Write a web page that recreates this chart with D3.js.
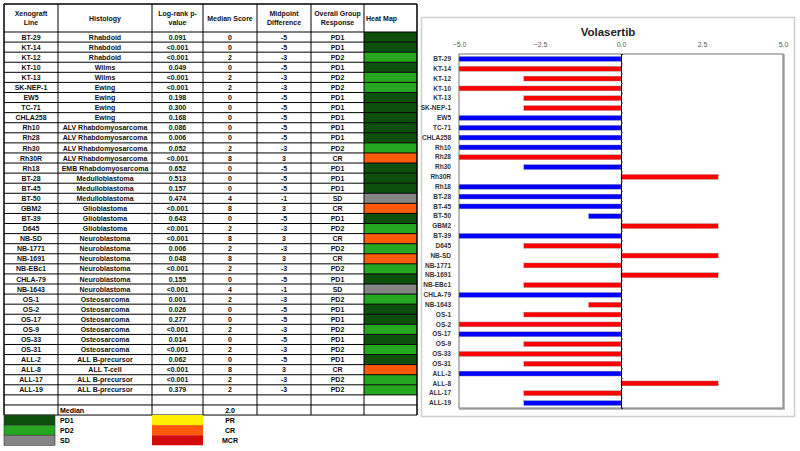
<!DOCTYPE html>
<html><head><meta charset="utf-8">
<script src="https://cdn.jsdelivr.net/npm/d3@7"></script>
<style>
html,body{margin:0;padding:0;background:#fff;}
svg{display:block;font-family:"Liberation Sans",Arial,sans-serif;}
</style></head>
<body>
<svg id="c" width="800" height="451"></svg>
<script>
const lines = ["BT-29","KT-14","KT-12","KT-10","KT-13","SK-NEP-1","EW5","TC-71","CHLA258","Rh10","Rh28","Rh30","Rh30R","Rh18","BT-28","BT-45","BT-50","GBM2","BT-39","D645","NB-SD","NB-1771","NB-1691","NB-EBc1","CHLA-79","NB-1643","OS-1","OS-2","OS-17","OS-9","OS-33","OS-31","ALL-2","ALL-8","ALL-17","ALL-19"];
const histology = ["Rhabdoid","Rhabdoid","Rhabdoid","Wilms","Wilms","Ewing","Ewing","Ewing","Ewing","ALV Rhabdomyosarcoma","ALV Rhabdomyosarcoma","ALV Rhabdomyosarcoma","ALV Rhabdomyosarcoma","EMB Rhabdomyosarcoma","Medulloblastoma","Medulloblastoma","Medulloblastoma","Glioblastoma","Glioblastoma","Glioblastoma","Neuroblastoma","Neuroblastoma","Neuroblastoma","Neuroblastoma","Neuroblastoma","Neuroblastoma","Osteosarcoma","Osteosarcoma","Osteosarcoma","Osteosarcoma","Osteosarcoma","Osteosarcoma","ALL B-precursor","ALL T-cell","ALL B-precursor","ALL B-precursor"];
const pValues = ["0.091","<0.001","<0.001","0.049","<0.001","<0.001","0.198","0.300","0.168","0.086","0.006","0.052","<0.001","0.652","0.513","0.157","0.474","<0.001","0.643","<0.001","<0.001","0.006","0.048","<0.001","0.155","<0.001","0.001","0.026","0.277","<0.001","0.014","<0.001","0.062","<0.001","<0.001","0.379"];
const medianScore = [0,0,2,0,2,2,0,0,0,0,0,2,8,0,0,0,4,8,0,2,8,2,8,2,0,4,2,0,0,2,0,2,0,8,2,2];
const midpointDiff = [-5,-5,-3,-5,-3,-3,-5,-5,-5,-5,-5,-3,3,-5,-5,-5,-1,3,-5,-3,3,-3,3,-3,-5,-1,-3,-5,-5,-3,-5,-3,-5,3,-3,-3];
const response = ["PD1","PD1","PD2","PD1","PD2","PD2","PD1","PD1","PD1","PD1","PD1","PD2","CR","PD1","PD1","PD1","SD","CR","PD1","PD2","CR","PD2","CR","PD2","PD1","SD","PD2","PD1","PD1","PD2","PD1","PD2","PD1","CR","PD2","PD2"];
const headers = [["Xenograft","Line"],["Histology"],["Log-rank p-","value"],["Median Score"],["Midpoint","Difference"],["Overall Group","Response"],["Heat Map"]];
const medianLabel = "Median", medianValue = "2.0";
const legendLeft = ["PD1","PD2","SD"];
const legendRight = ["PR","CR","MCR"];
const xTicks = [-5,-2.5,0,2.5,5];
const chartTitle = "Volasertib";

const respColor = {PD1:"#0d4f0d",PD2:"#25a81f",SD:"#858585",PR:"#ffee00",CR:"#ff5a0a",MCR:"#d40a0a"};
const sig = p => p.startsWith("<") || parseFloat(p) < 0.05;

const svg = d3.select("#c");
const font = "'Liberation Sans',Arial,sans-serif";

// ---------- TABLE ----------
const colX = [4,58,152,203,257,311,364,417];
const headTop = 4, headBot = 32;
const rowH = 10.08;
const nRows = lines.length;
const rowY = i => headBot + i*rowH;
const T = svg.append("g");

response.forEach((r,i)=>{
  T.append("rect").attr("x",colX[6]).attr("y",rowY(i)).attr("width",colX[7]-colX[6]).attr("height",rowH).attr("fill",respColor[r]);
});
const cols = [lines, histology, pValues, medianScore, midpointDiff, response];
cols.forEach((arr,c)=>{
  arr.forEach((v,i)=>{
    T.append("text").attr("x",(colX[c]+colX[c+1])/2).attr("y",rowY(i)+rowH/2+2.6)
     .attr("text-anchor","middle").attr("font-size",7).attr("font-weight","bold").attr("fill","#111").text(v);
  });
});
headers.forEach((h,c)=>{
  const n = h.length;
  h.forEach((t,k)=>{
    const yy = (headTop+headBot)/2 + 2.5 + (k-(n-1)/2)*9.5;
    const t1 = T.append("text").attr("y",yy).attr("font-size",7).attr("font-weight","bold").attr("fill","#111").text(t);
    if(c===6) t1.attr("x",colX[6]+2).attr("text-anchor","start");
    else t1.attr("x",(colX[c]+colX[c+1])/2).attr("text-anchor","middle");
  });
});
const tableBottom = rowY(nRows+2);
for(let i=0;i<=nRows+2;i++){
  T.append("line").attr("x1",colX[0]).attr("x2",colX[7]).attr("y1",rowY(i)).attr("y2",rowY(i)).attr("stroke","#000").attr("stroke-width",1);
}
colX.forEach((xx,k)=>{
  T.append("line").attr("x1",xx).attr("x2",xx).attr("y1",headTop).attr("y2",tableBottom).attr("stroke","#000").attr("stroke-width",(k===0||k===7)?1.5:1);
});
T.append("line").attr("x1",colX[0]).attr("x2",colX[7]).attr("y1",headTop).attr("y2",headTop).attr("stroke","#000").attr("stroke-width",1.5);
const medY = rowY(nRows+1);
T.append("text").attr("x",colX[1]+2).attr("y",medY+rowH/2+2.6).attr("font-size",7).attr("font-weight","bold").text(medianLabel);
T.append("text").attr("x",(colX[3]+colX[4])/2).attr("y",medY+rowH/2+2.6).attr("text-anchor","middle").attr("font-size",7).attr("font-weight","bold").text(medianValue);
legendLeft.forEach((k,i)=>{
  const yy = tableBottom + i*rowH;
  T.append("rect").attr("x",colX[0]).attr("y",yy).attr("width",51).attr("height",rowH).attr("fill",respColor[k]).attr("stroke","#333").attr("stroke-width",0.6);
  T.append("text").attr("x",colX[1]+2).attr("y",yy+rowH/2+2.6).attr("font-size",7).attr("font-weight","bold").text(k);
});
legendRight.forEach((k,i)=>{
  const yy = tableBottom + i*rowH;
  T.append("rect").attr("x",colX[2]).attr("y",yy).attr("width",colX[3]-colX[2]).attr("height",rowH).attr("fill",respColor[k]);
  T.append("text").attr("x",(colX[3]+colX[4])/2).attr("y",yy+rowH/2+2.6).attr("text-anchor","middle").attr("font-size",7).attr("font-weight","bold").text(k);
});

// ---------- BAR CHART ----------
const C = svg.append("g");
C.append("rect").attr("x",421.5).attr("y",17.5).attr("width",373).attr("height",399).attr("fill","#fff").attr("stroke","#cfcfcf").attr("stroke-width",1.5);
const x = d3.scaleLinear().domain([-5,5]).range([459,783]);
const y = d3.scaleBand().domain(lines).range([54,408]).paddingInner(0.5).paddingOuter(0.25);
C.append("text").attr("x",608).attr("y",36).attr("text-anchor","middle").attr("font-size",11.5).attr("font-weight","bold").attr("fill","#222").text(chartTitle);
C.append("rect").attr("x",460).attr("y",55).attr("width",324).attr("height",354).attr("fill","none").attr("stroke","#bbb").attr("stroke-width",2);
C.append("rect").attr("x",459).attr("y",54).attr("width",324).attr("height",354).attr("fill","#fff").attr("stroke","#777").attr("stroke-width",1);
C.selectAll("rect.bar").data(lines).enter().append("rect").attr("class","bar")
  .attr("x",(d,i)=>x(Math.min(0,midpointDiff[i])))
  .attr("y",d=>y(d))
  .attr("width",(d,i)=>Math.abs(x(midpointDiff[i])-x(0)))
  .attr("height",y.bandwidth())
  .attr("fill",(d,i)=>sig(pValues[i])?"#ff0000":"#0000ff")
  .attr("stroke","#999").attr("stroke-width",0.4);
const ax = C.append("g").attr("transform","translate(0,50)")
  .call(d3.axisTop(x).tickValues(xTicks).tickSize(0).tickFormat(d3.format(".1f")));
ax.select(".domain").remove();
ax.selectAll("text").attr("font-size",7).attr("fill","#555").attr("font-family",font);
const z = C.append("g").attr("transform",`translate(${x(0)},0)`)
  .call(d3.axisRight(y).tickSize(2).tickFormat(""));
z.select(".domain").attr("stroke","#000");
z.selectAll(".tick line").attr("stroke","#555");
z.selectAll(".tick").attr("transform",d=>`translate(0,${y(d)+y.bandwidth()/2+y.step()/2})`);
const ay = C.append("g").attr("transform","translate(454,0)")
  .call(d3.axisLeft(y).tickSize(0));
ay.select(".domain").remove();
ay.selectAll("text").attr("font-size",6.5).attr("font-weight","bold").attr("fill","#333").attr("font-family",font);
</script>
</body></html>
